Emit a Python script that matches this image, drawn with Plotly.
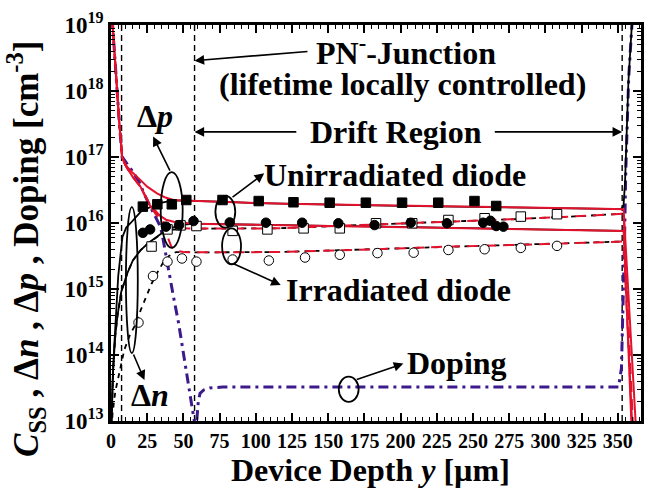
import plotly.graph_objects as go

FONT = "'Liberation Serif', 'Times New Roman', Times, serif"
RED = "#e3122d"
INDIGO = "#3d1a8c"

# ---- measured carrier profiles (spreading resistance, cm^-3) ----
sq_fill_x = [22, 32, 42, 52, 77, 102, 126, 151, 176, 201, 226, 251, 266]
sq_fill_y = [1.77e16, 1.92e16, 1.92e16, 2.23e16, 2.23e16, 2.15e16, 2.06e16,
             2.03e16, 2.03e16, 2.03e16, 2.03e16, 2.15e16, 1.81e16]

ci_fill_x = [22, 27, 38, 47, 57, 82, 107, 132, 157, 182, 207, 232, 257, 262, 266, 271]
ci_fill_y = [7.1e15, 8.0e15, 8.8e15, 9.3e15, 1.07e16, 1.02e16, 1.01e16, 1.01e16,
             9.9e15, 9.3e15, 1.01e16, 9.9e15, 1.01e16, 1.08e16, 9.0e15, 8.8e15]

sq_open_x = [28, 39, 48, 59, 84, 108, 133, 158, 183, 208, 233, 258, 283, 308]
sq_open_y = [4.4e15, 8.0e15, 9.2e15, 9.0e15, 7.6e15, 8.0e15, 8.3e15, 8.3e15,
             9.9e15, 9.9e15, 1.11e16, 1.18e16, 1.25e16, 1.36e16]

ci_open_x = [19, 29, 39, 49, 59, 84, 109, 134, 158, 184, 209, 233, 258, 283, 308]
ci_open_y = [3.1e14, 1.57e15, 2.6e15, 2.9e15, 2.6e15, 2.8e15, 2.7e15, 3.0e15,
             3.3e15, 3.5e15, 3.55e15, 3.9e15, 4.0e15, 4.2e15, 4.5e15]

# ---- simulated profiles, stored as log10(concentration / cm^-3) ----
dp_unirr_hi_x = [0.8, 2.5, 3.9, 5.8, 7.7, 9.0, 11.2, 15, 20.4, 25, 31.8, 37, 43.3, 50,
                 60, 80, 100, 120, 150, 200, 250, 300, 340, 354, 362.5]
dp_unirr_hi_lg = [19.1, 18.5, 18.0, 17.5, 17.0, 16.93, 16.85, 16.76, 16.65, 16.55, 16.45,
                  16.39, 16.35, 16.34, 16.335, 16.32, 16.30, 16.29, 16.28, 16.26, 16.245,
                  16.23, 16.215, 16.21, 12.9]

dp_unirr_lo_x = [0.8, 2.5, 3.9, 5.8, 7.7, 9.0, 11.2, 15, 20.4, 24, 27.3, 31, 34.2, 38,
                 43.3, 50, 57, 66, 80, 100, 120, 150, 200, 250, 300, 340, 354, 359.5]
dp_unirr_lo_lg = [19.1, 18.5, 18.0, 17.5, 17.0, 16.92, 16.83, 16.7, 16.55, 16.4, 16.25,
                  16.15, 16.1, 16.05, 16.02, 16.0, 15.99, 15.985, 15.98, 15.97, 15.965,
                  15.955, 15.94, 15.92, 15.905, 15.89, 15.88, 12.9]

dp_irr_hi_x = [0.8, 2.5, 3.9, 5.8, 7.7, 9.0, 11.2, 15, 20.4, 24, 27.3, 31, 35, 40, 45,
               50, 57, 80, 116, 150, 200, 230, 280, 320, 354, 360.5]
dp_irr_hi_lg = [19.1, 18.5, 18.0, 17.5, 17.0, 16.92, 16.83, 16.7, 16.55, 16.4, 16.25,
                16.13, 16.03, 15.96, 15.93, 15.92, 15.915, 15.915, 15.92, 15.95, 15.99,
                16.02, 16.06, 16.1, 16.14, 12.9]

dp_irr_lo_x = [0.8, 2.5, 3.9, 5.8, 7.7, 9.0, 11.2, 15, 20.4, 24, 27.3, 31, 34.8, 38.2,
               41.7, 45, 50, 60, 116, 180, 230, 300, 354, 360]
dp_irr_lo_lg = [19.1, 18.5, 18.0, 17.5, 17.0, 16.92, 16.83, 16.7, 16.55, 16.4, 16.25,
                16.18, 16.08, 15.84, 15.64, 15.58, 15.56, 15.555, 15.56, 15.6, 15.64,
                15.68, 15.72, 12.9]

dn_unirr_hi_x = [0.3, 1.0, 2.2, 3.5, 5.0, 7.9, 10.5, 13.6, 17, 20.5, 25, 29.7, 33.7, 37.7,
                 43.3, 50, 60, 80, 100, 120, 150, 200, 250, 300, 340, 352, 353.9, 355,
                 357.3, 359.7, 360.5]
dn_unirr_hi_lg = [12.9, 13.55, 14.12, 14.7, 15.2, 15.79, 15.93, 16.0, 16.09, 16.17, 16.22,
                  16.27, 16.3, 16.32, 16.34, 16.34, 16.335, 16.32, 16.30, 16.29, 16.28,
                  16.26, 16.245, 16.23, 16.215, 16.21, 16.25, 16.63, 18.14, 19.05, 19.3]

dn_unirr_lo_x = [0.3, 1.5, 3.0, 4.4, 7, 11.3, 15, 20.5, 26, 31.9, 36, 41.1, 48, 57, 80,
                 120, 150, 200, 250, 300, 340, 354]
dn_unirr_lo_lg = [12.9, 13.8, 14.3, 14.58, 14.95, 15.24, 15.43, 15.59, 15.7, 15.79, 15.86,
                  15.92, 15.97, 15.99, 15.98, 15.965, 15.955, 15.94, 15.92, 15.905, 15.89,
                  15.88]

dn_irr_hi_x = [0.3, 1.5, 3.0, 4.4, 7, 11.3, 15, 20.5, 26, 31.9, 36, 40, 45, 50, 57, 80,
               116, 150, 200, 230, 280, 320, 354]
dn_irr_hi_lg = [12.9, 13.8, 14.3, 14.58, 14.95, 15.24, 15.43, 15.59, 15.7, 15.79, 15.85,
                15.89, 15.91, 15.92, 15.915, 15.915, 15.92, 15.95, 15.99, 16.02, 16.06,
                16.1, 16.14]

dn_irr_lo_x = [0.5, 1.1, 3, 5.7, 9.2, 13, 17.3, 20.5, 24.2, 28, 32, 36, 40, 45, 50, 60,
               116, 180, 230, 300, 354]
dn_irr_lo_lg = [12.9, 13.12, 13.45, 13.72, 14.08, 14.3, 14.48, 14.68, 14.88, 15.08, 15.25,
                15.4, 15.5, 15.56, 15.56, 15.555, 15.56, 15.6, 15.64, 15.68, 15.72]

doping_x = [0.8, 2.5, 3.9, 5.8, 7.7, 10, 12.6, 16, 20, 22.7, 26, 30, 34.2, 36, 38, 39.9,
            43, 46.7, 50, 52.4, 55.9, 57.5, 58.3, 59.2, 60.3, 61.5, 64, 68.2, 77.2, 100,
            200, 300, 350.5, 352.5, 353.5, 354.5, 355.5, 357.5, 360, 361]
doping_lg = [19.1, 18.5, 18.0, 17.5, 17.0, 16.93, 16.87, 16.75, 16.6, 16.45, 16.3, 16.12,
             15.94, 15.75, 15.5, 15.24, 14.9, 14.48, 14.05, 13.72, 13.22, 13.0, 12.5, 13.0,
             13.3, 13.42, 13.47, 13.5, 13.515, 13.515, 13.515, 13.515, 13.515, 13.8, 14.6,
             15.6, 16.8, 18.2, 19.1, 19.3]

# region boundaries [um]
boundaries_x = [7.3, 57.7, 353]

x_ticks = list(range(0, 351, 25))
y_decades = list(range(13, 20))


def lin(lg):
    return [10 ** v for v in lg]


fig = go.Figure()


def line(x, lg, color, width, dash="solid"):
    fig.add_trace(go.Scatter(x=x, y=lin(lg), mode="lines",
                             line=dict(color=color, width=width, dash=dash),
                             hoverinfo="skip", showlegend=False))


# doping profile
line(doping_x, doping_lg, INDIGO, 3, "10px,5px,3px,5px")
# electron densities
line(dn_irr_hi_x, dn_irr_hi_lg, "black", 1.8, "5px,5px")
line(dn_irr_lo_x, dn_irr_lo_lg, "black", 1.8, "5px,5px")
line(dn_unirr_hi_x, dn_unirr_hi_lg, "black", 1.8)
line(dn_unirr_lo_x, dn_unirr_lo_lg, "black", 1.8)
# hole densities
line(dp_unirr_hi_x, dp_unirr_hi_lg, RED, 2)
line(dp_unirr_lo_x, dp_unirr_lo_lg, RED, 2)
line(dp_irr_hi_x, dp_irr_hi_lg, RED, 2, "11px,7px")
line(dp_irr_lo_x, dp_irr_lo_lg, RED, 2, "11px,7px")


def markers(x, y, symbol, filled):
    fig.add_trace(go.Scatter(
        x=x, y=y, mode="markers", hoverinfo="skip", showlegend=False,
        marker=dict(symbol=symbol, size=9.5,
                    color="black" if filled else "white",
                    line=dict(color="black", width=1))))


markers(sq_open_x, sq_open_y, "square", False)
markers(ci_open_x, ci_open_y, "circle", False)
markers(sq_fill_x, sq_fill_y, "square", True)
markers(ci_fill_x, ci_fill_y, "circle", True)

# dashed region boundaries
for bx in boundaries_x:
    fig.add_shape(type="line", xref="x", yref="paper", x0=bx, x1=bx, y0=0, y1=1,
                  line=dict(color="black", width=1.4, dash="6px,4px"), layer="below")

# ellipses grouping curves / data
ellipses = [
    (34.3, 49.5, 5.9e16, 4.2e15),    # delta p
    (10.3, 18.5, 1.74e16, 1.07e14),  # delta n
    (72.1, 85.8, 2.57e16, 8.5e15),   # unirradiated
    (76.7, 89.8, 8.3e15, 2.37e15),   # irradiated
    (157.3, 171.0, 4.7e13, 1.95e13), # doping
]
for x0, x1, y0, y1 in ellipses:
    fig.add_shape(type="circle", xref="x", yref="y", x0=x0, x1=x1, y0=y0, y1=y1,
                  line=dict(color="black", width=1.8))

# arrows: (head x, head log y, tail x, tail log y)
arrows = [
    (29.1, 17.31, 41.2, 16.77),
    (23.1, 13.62, 15.1, 14.03),
    (105.8, 16.753, 82.9, 16.374),
    (117.2, 15.06, 84.0, 15.39),
    (201.9, 13.87, 168.7, 13.62),
    (57.7, 18.46, 136.7, 18.60),
    (57.7, 17.38, 129.0, 17.38),
    (353.0, 17.38, 264.0, 17.38),
]
for hx, hy, tx, ty in arrows:
    fig.add_annotation(x=hx, y=hy, ax=tx, ay=ty, xref="x", yref="y", axref="x", ayref="y",
                       text="", showarrow=True, arrowhead=2, arrowsize=1.2,
                       arrowwidth=1.6, arrowcolor="black")

TXT = dict(family=FONT, size=32, color="black", weight="bold")
labels = [
    (203.6, 18.60, "PN<sup>-</sup>-Junction"),
    (201.2, 18.11, "(lifetime locally controlled)"),
    (196.8, 17.38, "Drift Region"),
    (196.1, 16.73, "Unirradiated diode"),
    (198.5, 14.985, "Irradiated diode"),
    (239.0, 13.88, "Doping"),
    (30.2, 17.62, "Δ<i>p</i>"),
    (26.8, 13.39, "Δ<i>n</i>"),
]
for lx, ly, t in labels:
    fig.add_annotation(x=lx, y=ly, xref="x", yref="y", text=t, showarrow=False,
                       font=TXT, xanchor="center", yanchor="middle")

# axis titles
fig.add_annotation(xref="paper", yref="paper", x=0.49, y=-0.124, showarrow=False,
                   text="Device Depth <i>y</i> [µm]", font=TXT,
                   xanchor="center", yanchor="middle")
fig.add_annotation(xref="paper", yref="paper", x=-0.16, y=0.435, showarrow=False,
                   text="<i>C</i><sub>SS</sub> , Δ<i>n</i> , Δ<i>p</i> , Doping [cm<sup>-3</sup>]",
                   font=dict(family=FONT, size=35, color="black", weight="bold"),
                   textangle=-90, xanchor="center", yanchor="middle")

XTICKFONT = dict(family=FONT, size=20, color="black", weight="bold")
YTICKFONT = dict(family=FONT, size=23, color="black", weight="bold")
axis_common = dict(showline=True, linecolor="black", linewidth=2.5, mirror="allticks",
                   ticks="inside", tickcolor="black", tickwidth=1.8, ticklen=8,
                   showgrid=False, zeroline=False)

fig.update_xaxes(range=[0, 366], tickvals=x_ticks, ticktext=[str(v) for v in x_ticks],
                 tickfont=XTICKFONT,
                 minor=dict(ticks="inside", dtick=5, ticklen=4, tickwidth=1.4,
                            tickcolor="black", showgrid=False),
                 **axis_common)
minor_y = [k * 10 ** d for d in y_decades[:-1] for k in range(2, 10)]
fig.update_yaxes(type="log", range=[13, 19], tickvals=[10 ** d for d in y_decades],
                 ticktext=[f"10<sup>{d}</sup>" for d in y_decades],
                 tickfont=YTICKFONT,
                 minor=dict(ticks="inside", tickvals=minor_y, ticklen=4, tickwidth=1.4,
                            tickcolor="black", showgrid=False),
                 **axis_common)

fig.update_layout(width=648, height=491, margin=dict(l=111, r=4, t=25, b=70),
                  plot_bgcolor="white", paper_bgcolor="white", showlegend=False,
                  font=dict(family=FONT))

fig.write_html("out.html")
